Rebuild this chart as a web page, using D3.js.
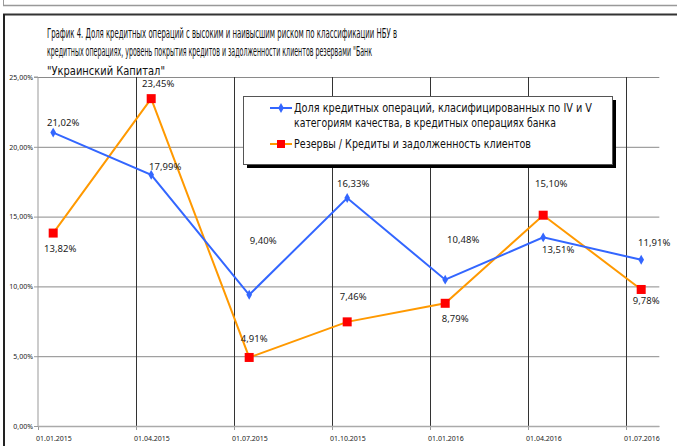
<!DOCTYPE html>
<html><head><meta charset="utf-8">
<script src="https://cdn.jsdelivr.net/npm/d3@7"></script>
<style>body{margin:0;background:#fff}svg{display:block}text{font-family:"Noto Sans",sans-serif}.nar{font-family:"Liberation Sans Narrow","DejaVu Sans Condensed","Noto Sans",sans-serif}</style>
</head><body>
<svg id="c" width="677" height="446"></svg>
<script>
const categories = ["01.01.2015","01.04.2015","01.07.2015","01.10.2015","01.01.2016","01.04.2016","01.07.2016"];
const shareHighRisk = [21.02,17.99,9.40,16.33,10.48,13.51,11.91];
const reserveRatio = [13.82,23.45,4.91,7.46,8.79,15.10,9.78];
const yTicks = [0,5,10,15,20,25];
const seriesNames = ["Доля кредитных операций, класифицированных по  IV и V|категориям качества, в кредитных операциях банка","Резервы / Кредиты и задолженность клиентов"];
const titleLines = ["График 4. Доля кредитных операций с высоким и наивысшим риском по классификации НБУ в","кредитных операциях, уровень покрытия кредитов и задолженности клиентов резервами \"Банк","\"Украинский Капитал\""];

// label placement offsets (layout only)
const blueLabelOff = [[10,-7],[14,-5],[14,-51],[6,-11],[18,-37],[15,16],[13,-14]];
const orangeLabelOff = [[7,19],[7,-12],[5,-15],[6,-22],[10,19],[8,-28],[5,15]];

const svg = d3.select("#c");
const fmt = d => d.toFixed(2).replace(".", ",") + "%";

// frames
svg.append("line").attr("x1",3).attr("x2",677).attr("y1",5.5).attr("y2",5.5).attr("stroke","#999").attr("stroke-width",1.5);
svg.append("line").attr("x1",3.5).attr("x2",3.5).attr("y1",0).attr("y2",6).attr("stroke","#999");
svg.append("line").attr("x1",3).attr("x2",677).attr("y1",14.5).attr("y2",14.5).attr("stroke","#333").attr("stroke-width",2);
svg.append("line").attr("x1",4).attr("x2",4).attr("y1",14).attr("y2",446).attr("stroke","#222").attr("stroke-width",2);

// title
const tl = [350, 325, 118];
const tfs = [13.5, 13.5, 12];
titleLines.forEach((t,i)=>{
  svg.append("text").attr("class","nar").attr("x",47).attr("y",37.5+i*18.5).attr("font-size",tfs[i]).attr("fill","#111")
    .attr("textLength",tl[i]).attr("lengthAdjust","spacingAndGlyphs").text(t);
});

const x = d3.scaleLinear().domain([0,6]).range([38,626]);
const xEnd = x(6.34);
const ptOff = 0.155;
const y = d3.scaleLinear().domain([0,25]).range([426,77]);

// horizontal gridlines
const gy = svg.append("g").attr("transform",`translate(${x(0)},0)`)
  .call(d3.axisLeft(y).tickValues(yTicks).tickSize(-(xEnd-x(0))).tickFormat(""));
gy.selectAll("line").attr("stroke","#8a8a8a");
gy.select(".domain").remove();

// vertical gridlines
const gx = svg.append("g").attr("transform",`translate(0,${y(0)})`)
  .call(d3.axisBottom(x).tickValues(d3.range(categories.length)).tickSize(4).tickFormat(""));
gx.select(".domain").remove();
gx.selectAll("line").attr("stroke","#999");
svg.append("g").selectAll("line").data(d3.range(1,categories.length)).join("line")
  .attr("x1",d=>x(d)+0.5).attr("x2",d=>x(d)+0.5).attr("y1",y(25)).attr("y2",y(0))
  .attr("stroke","#333").attr("stroke-width",1);

// axes
const ya = svg.append("g").attr("transform",`translate(${x(0)},0)`)
  .call(d3.axisLeft(y).tickValues(yTicks).tickSize(4).tickPadding(1).tickFormat(fmt));
ya.select(".domain").attr("stroke","#999").attr("d",`M-4,${y(25)}H0V${y(0)}`);
ya.selectAll("line").attr("stroke","#999");
ya.selectAll("text").attr("font-size",7).attr("fill","#222").attr("font-family","Noto Sans");
svg.append("line").attr("x1",x(0)).attr("x2",xEnd).attr("y1",y(0)+0.5).attr("y2",y(0)+0.5).attr("stroke","#aaa").attr("stroke-width",1.5);

svg.append("g").selectAll("text").data(categories).join("text")
  .attr("x",(d,i)=>x(i)-2).attr("y",441).attr("font-size",7).attr("fill","#222").text(d=>d);

// lines
const line = d3.line().x((d,i)=>x(i+ptOff)).y(d=>y(d));
svg.append("path").datum(reserveRatio).attr("d",line).attr("fill","none").attr("stroke","#FF9900").attr("stroke-width",2);
svg.append("path").datum(shareHighRisk).attr("d",line).attr("fill","none").attr("stroke","#3366FF").attr("stroke-width",2);

// markers
svg.append("g").selectAll("path").data(shareHighRisk).join("path")
  .attr("d",d3.symbol(d3.symbolDiamond,28))
  .attr("transform",(d,i)=>`translate(${x(i+ptOff)},${y(d)})`).attr("fill","#3366FF");
svg.append("g").selectAll("rect").data(reserveRatio).join("rect")
  .attr("x",(d,i)=>x(i+ptOff)-4.5).attr("y",d=>y(d)-4.5).attr("width",9).attr("height",9).attr("fill","#FF0000");

// data labels
svg.append("g").selectAll("text").data(shareHighRisk).join("text")
  .attr("x",(d,i)=>x(i+ptOff)+blueLabelOff[i][0]).attr("y",(d,i)=>y(d)+blueLabelOff[i][1])
  .attr("text-anchor","middle").attr("font-size",9.5).attr("fill","#222").text(fmt);
svg.append("g").selectAll("text").data(reserveRatio).join("text")
  .attr("x",(d,i)=>x(i+ptOff)+orangeLabelOff[i][0]).attr("y",(d,i)=>y(d)+orangeLabelOff[i][1])
  .attr("text-anchor","middle").attr("font-size",9.5).attr("fill","#222").text(fmt);

// legend
const lg = svg.append("g");
lg.append("rect").attr("x",247).attr("y",100).attr("width",369).attr("height",68).attr("fill","#000");
lg.append("rect").attr("x",243.5).attr("y",96.5).attr("width",369).attr("height",68).attr("fill","#fff").attr("stroke","#555");
lg.append("line").attr("x1",270).attr("x2",292).attr("y1",108).attr("y2",108).attr("stroke","#3366FF").attr("stroke-width",2);
lg.append("path").attr("d",d3.symbol(d3.symbolDiamond,28)).attr("transform","translate(281,108)").attr("fill","#3366FF");
lg.append("line").attr("x1",270).attr("x2",292).attr("y1",144).attr("y2",144).attr("stroke","#FF9900").attr("stroke-width",2);
lg.append("rect").attr("x",277).attr("y",140).attr("width",8).attr("height",8).attr("fill","#FF0000");
const l1 = seriesNames[0].split("|");
const lw = [298, 262];
l1.forEach((t,i)=>{
  lg.append("text").attr("class","nar").attr("x",294).attr("y",112+i*14.5).attr("font-size",11.5).attr("fill","#111")
    .attr("textLength",lw[i]).attr("lengthAdjust","spacingAndGlyphs").text(t);
});
lg.append("text").attr("class","nar").attr("x",294).attr("y",148).attr("font-size",11.5).attr("fill","#111")
  .attr("textLength",237).attr("lengthAdjust","spacingAndGlyphs").text(seriesNames[1]);
</script>
</body></html>
